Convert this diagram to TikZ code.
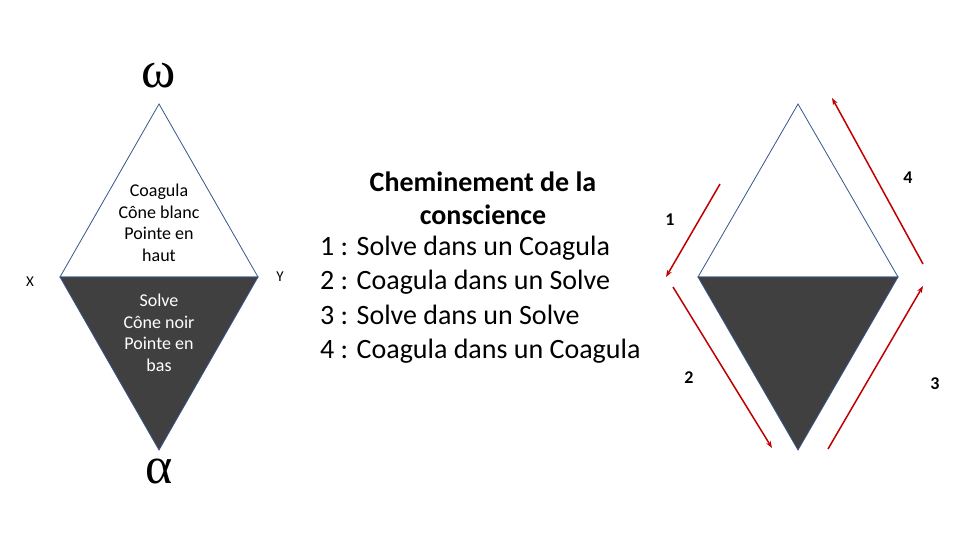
\documentclass[tikz,border=0pt]{standalone}
\usepackage{fontspec}
\setmainfont{Carlito}
\newfontfamily\greekfont{Liberation Serif}
\usetikzlibrary{arrows.meta}
\definecolor{outl}{RGB}{56,85,140}
\definecolor{darkfill}{RGB}{64,64,64}
\definecolor{arrred}{RGB}{192,0,0}
\tikzset{
  tri/.style={draw=outl,line width=0.8pt,line join=miter},
  redarrow/.style={draw=arrred,line width=1.5pt,-{Stealth[length=7pt,width=5pt]}},
  numlabel/.style={font=\fontsize{18}{20}\selectfont\bfseries},
  greek/.style={font=\fontsize{52}{56}\greekfont,anchor=base,inner sep=0pt},
  xylabel/.style={font=\fontsize{15}{17}\selectfont}
}
\begin{document}
\begin{tikzpicture}[x=1pt,y=-1pt]
\useasboundingbox (0,0) rectangle (960,540);
% left diamond
\coordinate (lt) at (159,104);
\coordinate (ll) at (60,277);
\coordinate (lr) at (258,277);
\coordinate (lb) at (159,450);
\draw[tri,fill=white] (ll) -- (lt) -- (lr) -- cycle;
\draw[tri,fill=darkfill] (ll) -- (lr) -- (lb) -- cycle;
\node[greek] (omega) at (159,88) {ω};
\node[greek] (alpha) at (159,483) {α};
\node[xylabel] (X) at (30,282) {X};
\node[xylabel] (Y) at (280,277) {Y};
\node[align=center,font=\fontsize{18}{21.5}\selectfont,inner sep=0pt] (coag) at (159,223) {Coagula\\Cône blanc\\Pointe en\\haut};
\node[align=center,font=\fontsize{18}{21.5}\selectfont,text=white,inner sep=0pt] (solve) at (159,333) {Solve\\Cône noir\\Pointe en\\bas};
% middle text
\node[align=center,font=\fontsize{28}{33}\selectfont\bfseries,inner sep=0pt] (title) at (483,198) {Cheminement de la\\conscience};
\node[align=left,anchor=west,font=\fontsize{28}{34.5}\selectfont,inner sep=0pt] (list) at (320,299.5) {1 : Solve dans un Coagula\\2 : Coagula dans un Solve\\3 : Solve dans un Solve\\4 : Coagula dans un Coagula};
% right diamond
\coordinate (rt) at (798,104);
\coordinate (rl) at (698,277);
\coordinate (rr) at (898,277);
\coordinate (rb) at (798,450);
\draw[tri,fill=white] (rl) -- (rt) -- (rr) -- cycle;
\draw[tri,fill=darkfill] (rl) -- (rr) -- (rb) -- cycle;
% arrows
\coordinate (a1s) at (720,184);
\coordinate (a1e) at (666,277);
\coordinate (a2s) at (673,287);
\coordinate (a2e) at (772,448);
\coordinate (a3s) at (828,449);
\coordinate (a3e) at (923,286);
\coordinate (a4s) at (923,264);
\coordinate (a4e) at (832,98);
\draw[redarrow] (a1s) -- (a1e);
\draw[redarrow] (a2s) -- (a2e);
\draw[redarrow] (a3s) -- (a3e);
\draw[redarrow] (a4s) -- (a4e);
\node[numlabel] (n1) at (670,220) {1};
\node[numlabel] (n2) at (689,378) {2};
\node[numlabel] (n3) at (935,384) {3};
\node[numlabel] (n4) at (908,178) {4};
\end{tikzpicture}
\end{document}
